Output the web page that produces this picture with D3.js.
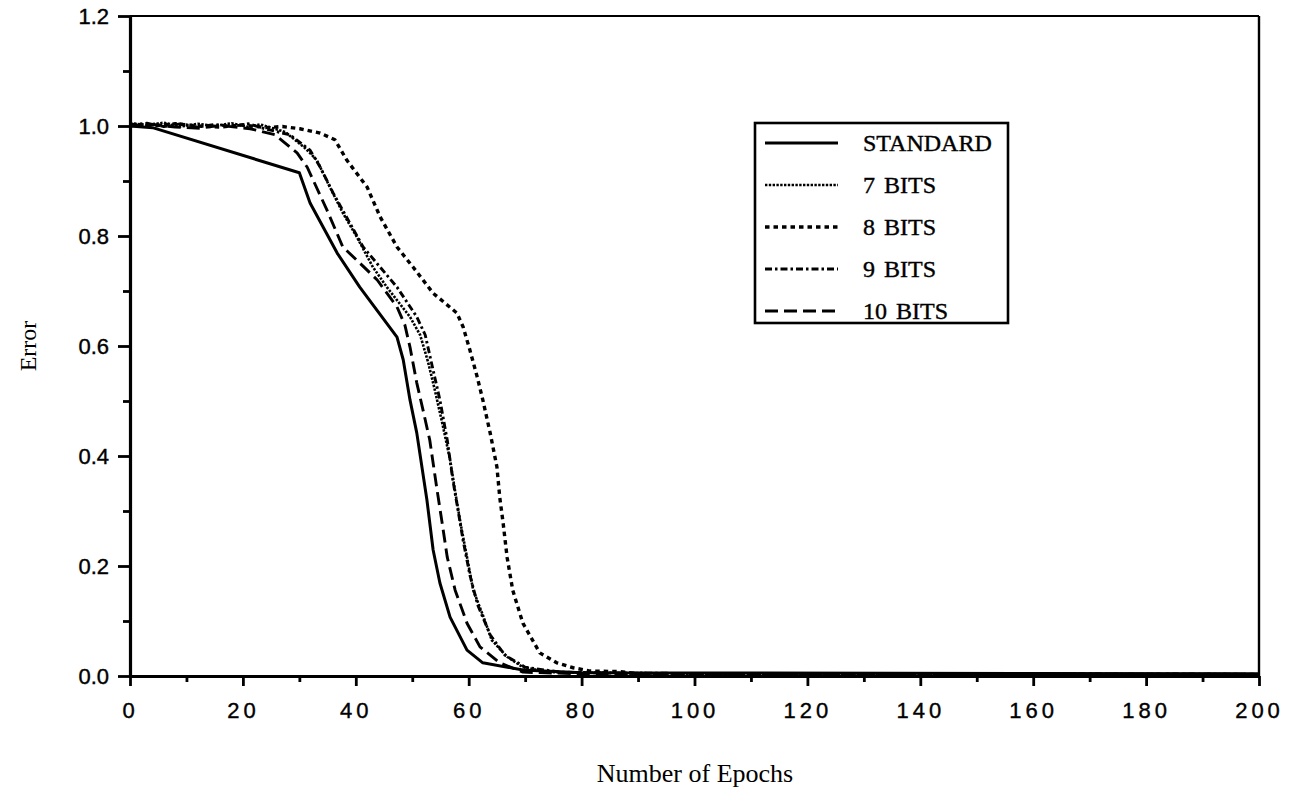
<!DOCTYPE html>
<html>
<head>
<meta charset="utf-8">
<script src="https://cdn.jsdelivr.net/npm/d3@7"></script>
<style>
  body { margin: 0; background: #fff; }
  svg { display: block; }
</style>
</head>
<body>
<svg id="chart" width="1294" height="797"></svg>
<script>
// Training error vs. epochs for the standard net and reduced-precision weights.
// Points are [epoch, error].
const standard = [[0,1.0],[4,0.997],[30,0.915],[31.9,0.86],[36.7,0.769],[40.7,0.707],[47.3,0.616],
  [48.4,0.575],[49.6,0.502],[50.8,0.442],[52.6,0.32],[53.7,0.229],[54.9,0.169],[56.7,0.107],
  [59.7,0.047],[62.5,0.024],[69.6,0.011],[80,0.006],[200,0.004]];

const bits7 = [[0,1.005],[3,1.002],[6,1.006],[9,0.999],[12,1.004],[15,1.0],[18,1.005],[21,0.998],
  [23,1.003],[25,0.997],[27.5,0.989],[31,0.96],[33.1,0.938],[35.4,0.889],[37.7,0.842],[40.2,0.798],
  [43,0.744],[45.5,0.707],[49.6,0.653],[51.4,0.62],[52.8,0.571],[54,0.52],[55.4,0.456],[56.7,0.393],
  [57.7,0.329],[58.6,0.275],[59.7,0.216],[60.8,0.156],[62.5,0.111],[64.1,0.065],[66.8,0.035],
  [69.6,0.016],[74.4,0.007],[85,0.006],[100,0.004],[200,0.003]];

const bits8 = [[0,1.003],[4,1.0],[8,1.004],[12,1.0],[16,0.998],[20,1.002],[24,0.997],[27,0.999],
  [30.1,0.995],[33.7,0.987],[36.3,0.975],[38.4,0.938],[42,0.889],[44.3,0.835],[47.3,0.78],[50.1,0.744],
  [53.7,0.696],[57.9,0.66],[59,0.635],[60.2,0.593],[61.5,0.544],[62.5,0.502],[63.8,0.442],[65,0.38],
  [65.5,0.325],[66.1,0.278],[66.8,0.216],[67.8,0.156],[69.6,0.096],[72.6,0.042],[75.6,0.024],
  [78.5,0.015],[81.5,0.009],[86.8,0.008],[90,0.004],[100,0.003],[200,0.003]];

const bits9 = [[0,1.002],[3,1.005],[6,0.999],[9,1.004],[12,0.998],[15,1.003],[18,0.999],[21,1.004],
  [23.9,0.995],[28.3,0.984],[31.9,0.956],[33.7,0.925],[36,0.878],[41.3,0.78],[47.3,0.707],[50.8,0.653],
  [52.3,0.62],[53.5,0.565],[54.9,0.502],[56.2,0.429],[57.2,0.356],[58.1,0.302],[59,0.247],[60.2,0.184],
  [61.6,0.129],[63.8,0.075],[66.4,0.038],[70,0.016],[76.2,0.007],[88,0.005],[200,0.003]];

const bits10 = [[0,1.0],[4,1.003],[8,0.998],[12.4,0.996],[16,1.001],[21.3,0.995],[25.7,0.984],
  [29.6,0.951],[31.4,0.925],[34.9,0.847],[37.7,0.78],[40.7,0.751],[43.8,0.72],[47.3,0.671],[48.7,0.638],
  [49.6,0.598],[50.8,0.533],[51.9,0.484],[53.1,0.429],[54.4,0.338],[55.3,0.278],[56.2,0.216],
  [57.6,0.156],[59.7,0.096],[62,0.053],[65.5,0.024],[69.6,0.007],[80,0.004],[200,0.003]];

const seriesNames = ['STANDARD', '7 BITS', '8 BITS', '9 BITS', '10 BITS'];
const xMajorTicks = [0, 20, 40, 60, 80, 100, 120, 140, 160, 180, 200];
const xMinorTicks = [10, 30, 50, 70, 90, 110, 130, 150, 170, 190];
const yMajorTicks = [0, 0.2, 0.4, 0.6, 0.8, 1.0, 1.2];
const yMinorTicks = [0.1, 0.3, 0.5, 0.7, 0.9, 1.1];

// line look per series (same order as seriesNames)
const styles = [
  { data: standard, dash: null,          width: 3 },
  { data: bits7,    dash: '2.4,1.4',     width: 2.6 },
  { data: bits8,    dash: '4.5,4',       width: 3.4 },
  { data: bits9,    dash: '7,3,2.5,3',   width: 2.9 },
  { data: bits10,   dash: '13,6',        width: 2.9 }
];

const svg = d3.select('#chart');
const plotL = 130, plotR = 1259, plotT = 16, plotB = 676;

const x = d3.scaleLinear().domain([0, 200]).range([plotL, plotR]);
const y = d3.scaleLinear().domain([0, 1.2]).range([plotB, plotT]);

const sans = '"Liberation Sans", Arial, sans-serif';
const serif = '"Liberation Serif", "Times New Roman", serif';

// frame: top and right are thinner than the axes
svg.append('line').attr('x1', plotL).attr('x2', plotR).attr('y1', plotT).attr('y2', plotT)
  .attr('stroke', '#000').attr('stroke-width', 2);
svg.append('line').attr('x1', plotR).attr('x2', plotR).attr('y1', plotT).attr('y2', plotB)
  .attr('stroke', '#000').attr('stroke-width', 2.4);

// x axis: major ticks with labels, minor ticks without
const xAxis = svg.append('g').attr('transform', `translate(0,${plotB})`)
  .call(d3.axisBottom(x).tickValues(xMajorTicks).tickSize(10).tickSizeOuter(0).tickPadding(16)
    .tickFormat(d3.format('d')));
svg.append('g').attr('transform', `translate(0,${plotB})`)
  .call(d3.axisBottom(x).tickValues(xMinorTicks).tickSize(6).tickFormat(''))
  .call(g => g.select('.domain').remove());

const yAxis = svg.append('g').attr('transform', `translate(${plotL},0)`)
  .call(d3.axisLeft(y).tickValues(yMajorTicks).tickSize(12).tickSizeOuter(0).tickPadding(9)
    .tickFormat(d3.format('.1f')));
svg.append('g').attr('transform', `translate(${plotL},0)`)
  .call(d3.axisLeft(y).tickValues(yMinorTicks).tickSize(7).tickFormat(''))
  .call(g => g.select('.domain').remove());

svg.selectAll('.domain').attr('stroke-width', 3.2);
svg.selectAll('.tick line').attr('stroke-width', 2.8);
xAxis.selectAll('.tick text').attr('font-family', sans).attr('font-size', 22)
  .attr('letter-spacing', 4).attr('fill', '#000')
  .attr('stroke', '#000').attr('stroke-width', 0.4);
yAxis.selectAll('.tick text').attr('font-family', sans).attr('font-size', 22)
  .attr('dy', '0.36em').attr('fill', '#000')
  .attr('stroke', '#000').attr('stroke-width', 0.4);

// curves
const line = d3.line().x(d => x(d[0])).y(d => y(d[1]));
styles.forEach(s => {
  svg.append('path')
    .datum(s.data)
    .attr('d', line)
    .attr('fill', 'none')
    .attr('stroke', '#000')
    .attr('stroke-width', s.width)
    .attr('stroke-dasharray', s.dash)
    .attr('stroke-linejoin', 'round');
});

// legend box
const lg = svg.append('g').attr('transform', 'translate(755,123)');
lg.append('rect').attr('width', 253).attr('height', 200)
  .attr('fill', '#fff').attr('stroke', '#000').attr('stroke-width', 2.6);
seriesNames.forEach((name, i) => {
  const ly = 20 + i * 42;
  lg.append('line').attr('x1', 10).attr('x2', 83).attr('y1', ly).attr('y2', ly)
    .attr('stroke', '#000').attr('stroke-width', styles[i].width)
    .attr('stroke-dasharray', styles[i].dash);
  lg.append('text').attr('x', 108).attr('y', ly).attr('dy', '0.35em')
    .attr('font-family', serif).attr('font-size', 24).attr('word-spacing', 3)
    .attr('stroke', '#000').attr('stroke-width', 0.4)
    .text(name);
});

// axis titles
svg.append('text')
  .attr('transform', 'translate(36,346) rotate(-90)')
  .attr('text-anchor', 'middle')
  .attr('font-family', serif).attr('font-size', 24)
  .text('Error');
svg.append('text')
  .attr('x', 695).attr('y', 782)
  .attr('text-anchor', 'middle')
  .attr('font-family', serif).attr('font-size', 26)
  .text('Number of Epochs');
</script>
</body>
</html>
